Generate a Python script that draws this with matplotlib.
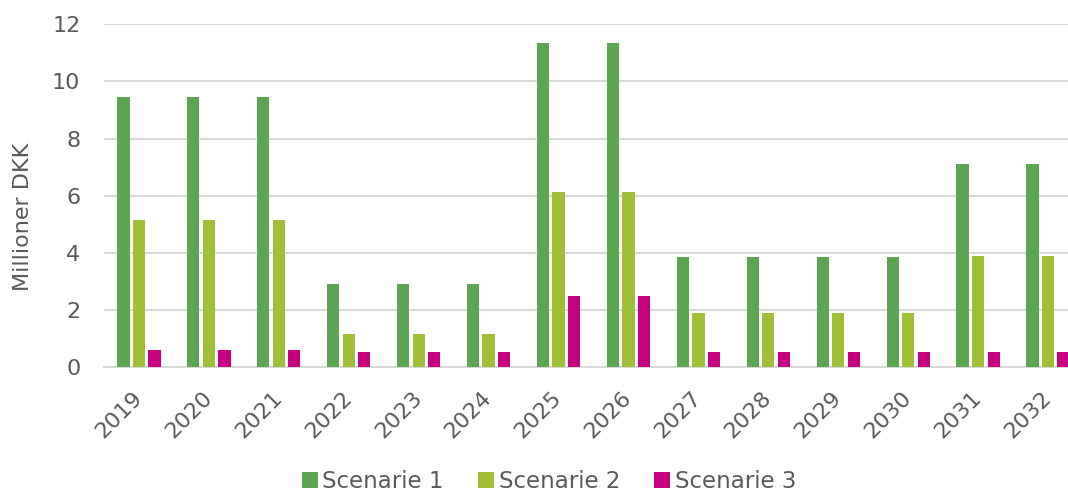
import matplotlib
matplotlib.use("Agg")
import matplotlib.pyplot as plt
import numpy as np

years = ["2019", "2020", "2021", "2022", "2023", "2024", "2025", "2026",
         "2027", "2028", "2029", "2030", "2031", "2032"]
scenarie1 = [9.45, 9.45, 9.45, 2.91, 2.91, 2.91, 11.34, 11.34, 3.84, 3.84, 3.84, 3.84, 7.11, 7.11]
scenarie2 = [5.16, 5.16, 5.16, 1.16, 1.16, 1.16, 6.13, 6.13, 1.88, 1.88, 1.88, 1.88, 3.89, 3.89]
scenarie3 = [0.58, 0.58, 0.58, 0.53, 0.53, 0.53, 2.48, 2.48, 0.53, 0.53, 0.53, 0.53, 0.53, 0.53]
series_names = ["Scenarie 1", "Scenarie 2", "Scenarie 3"]
colors = ["#5BA651", "#A1BE37", "#C6007E"]
yticks = [0, 2, 4, 6, 8, 10, 12]

plt.rcParams['font.family'] = ['DejaVu Sans']
text_color = "#595959"

fig = plt.figure(figsize=(10.68, 4.95), dpi=100)
ax = fig.add_axes([104/1068, 1 - 367/495, (1083-104)/1068, (367-24.3)/495])

x = np.arange(len(years))
slot = 0.222
bw = 0.175
for i, (vals, name, c) in enumerate(zip([scenarie1, scenarie2, scenarie3], series_names, colors)):
    ax.bar(x + (i - 1) * slot, vals, width=bw, color=c, label=name, zorder=3)

ax.set_xlim(-0.5, len(years) - 0.5)
ax.set_ylim(0, 12)
ax.set_yticks(yticks)
ax.set_yticklabels([str(t) for t in yticks])
ax.yaxis.grid(True, color="#D9D9D9", linewidth=1.5, zorder=0)
ax.set_axisbelow(True)
for s in ["top", "right", "left"]:
    ax.spines[s].set_visible(False)
ax.spines["bottom"].set_color("#D9D9D9")
ax.spines["bottom"].set_linewidth(1.5)
ax.tick_params(axis="both", length=0, labelsize=16, colors=text_color)
ax.tick_params(axis="y", pad=17)
ax.tick_params(axis="x", pad=20)
ax.set_xticks(x)
ax.set_xticklabels(years, rotation=45, ha="right", va="center", rotation_mode="anchor")

fig.text(23/1068, 1 - 217/495, "Millioner DKK", rotation=90, ha="center", va="center",
         fontsize=16, color=text_color)

leg = fig.legend(loc="lower center", bbox_to_anchor=(549/1068, -0.038), ncol=3,
                 frameon=False, fontsize=16.5, handlelength=0.7, handleheight=0.7,
                 handletextpad=0.2, columnspacing=1.5)
for t in leg.get_texts():
    t.set_color(text_color)

fig.savefig("out.png", dpi=100)
